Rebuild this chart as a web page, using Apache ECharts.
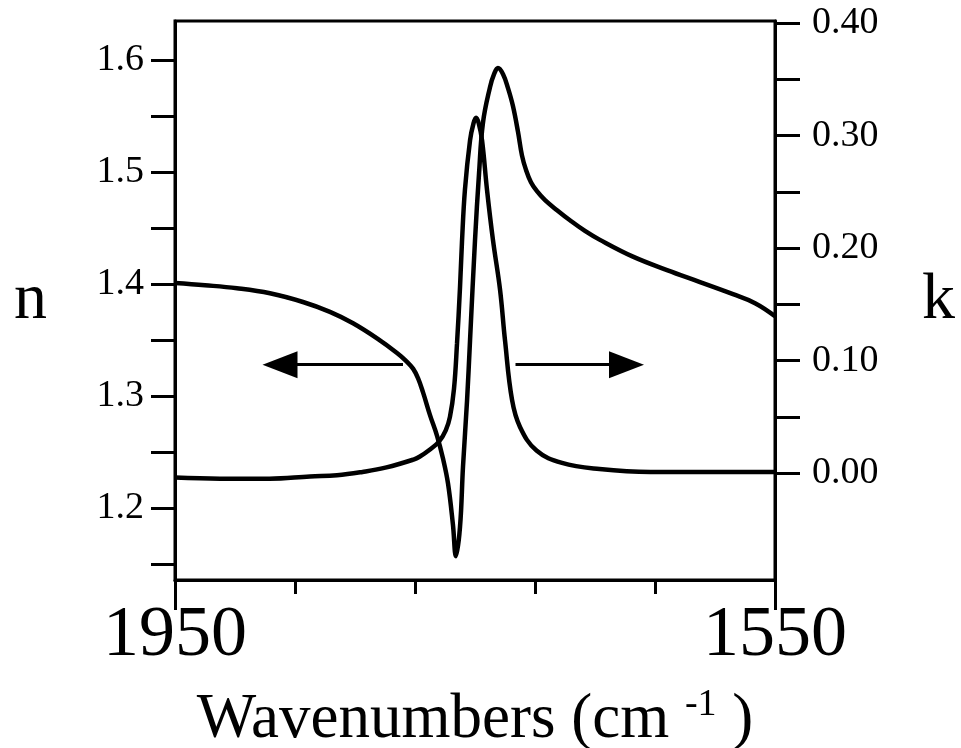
<!DOCTYPE html>
<html>
<head>
<meta charset="utf-8">
<script src="https://cdn.jsdelivr.net/npm/echarts@6/dist/echarts.min.js"></script>
<style>
  html, body { margin: 0; padding: 0; background: #fff; }
  #chart { width: 961px; height: 748px; }
</style>
</head>
<body>
<div id="chart"></div>
<script>
// refractive index n (left axis)
const nWave = [1950, 1930, 1908.7, 1886.7, 1864.7, 1846.7, 1831.3, 1815.3, 1802, 1796, 1791.3, 1788, 1784.7, 1780, 1775.3, 1771.3, 1768, 1764.7, 1762.7,
  1760, 1758, 1755.3, 1753.3, 1750, 1747.3, 1744.7, 1740, 1737.3, 1734.7, 1731.3, 1728, 1724.7, 1721.3, 1718.7, 1716, 1712.7, 1708.7,
  1703.3, 1695.3, 1686.7, 1676.7, 1666.7, 1644.7, 1622, 1600, 1578, 1563.3, 1550];
const nValue = [1.401, 1.399, 1.3963, 1.3918, 1.384, 1.3752, 1.365, 1.3515, 1.3385, 1.3315, 1.3245, 1.316, 1.3035, 1.283, 1.2645, 1.244, 1.222, 1.185, 1.157,
  1.183, 1.237, 1.296, 1.350, 1.439, 1.499, 1.544, 1.5759, 1.5875, 1.593, 1.5875, 1.575, 1.559, 1.5357, 1.515, 1.502, 1.491, 1.483,
  1.475, 1.466, 1.457, 1.4475, 1.4395, 1.4245, 1.4125, 1.4018, 1.391, 1.383, 1.3714];

// absorption index k (right axis)
const kWave = [1950, 1920, 1887, 1860, 1842, 1825, 1809, 1791, 1787, 1780, 1774, 1769.5, 1766.7, 1764, 1762, 1760, 1758.7,
  1756.7, 1753.3, 1751, 1749.3, 1747.5, 1745.3, 1742, 1738, 1733.3, 1730, 1725.3, 1720, 1709, 1692, 1667, 1633, 1590, 1550];
const kValue = [-0.004, -0.005, -0.005, -0.003, -0.002, 0.001, 0.005, 0.012, 0.0145, 0.021, 0.028, 0.038, 0.050, 0.075, 0.115, 0.165, 0.205,
  0.252, 0.296, 0.311, 0.316, 0.311, 0.296, 0.252, 0.207, 0.163, 0.118, 0.065, 0.041, 0.020, 0.009, 0.0036, 0.001, 0.001, 0.001];

const xTicks = [1550, 1630, 1710, 1790, 1870, 1950];
const xLabels = [1550, 1950];
const nTicks = [1.15, 1.2, 1.25, 1.3, 1.35, 1.4, 1.45, 1.5, 1.55, 1.6];
const nLabels = [1.2, 1.3, 1.4, 1.5, 1.6];
const kTicks = [0, 0.05, 0.1, 0.15, 0.2, 0.25, 0.3, 0.35, 0.4];
const kLabels = [0, 0.1, 0.2, 0.3, 0.4];

// arrows pointing to each axis: [from, to] in wavenumbers, at n level
const leftArrow = [1798, 1880];
const rightArrow = [1723, 1649];
const arrowLevel = 1.328;

const serif = 'Liberation Serif';
const nData = nWave.map((w, i) => [w, nValue[i]]);
const kData = kWave.map((w, i) => [w, kValue[i]]);

const myChart = echarts.init(document.getElementById('chart'));

const option = {
  animation: false,
  backgroundColor: '#fff',
  grid: {
    left: 175, right: 186, top: 21, bottom: 168,
    containLabel: false, outerBoundsMode: 'none',
    show: true, borderColor: '#000', borderWidth: 3,
  },
  xAxis: [
    {
      type: 'value', inverse: true, min: 1550, max: 1950, position: 'bottom',
      axisLine: { show: true, onZero: false, lineStyle: { color: '#000', width: 3 } },
      axisTick: { show: true, customValues: xTicks, length: 14, lineStyle: { color: '#000', width: 3 } },
      axisLabel: { show: false },
      splitLine: { show: false },
    },
    {
      type: 'value', inverse: true, min: 1550, max: 1950, position: 'bottom',
      axisLine: { show: false, onZero: false },
      axisTick: { show: true, customValues: xLabels, length: 30, lineStyle: { color: '#000', width: 3 } },
      axisLabel: {
        customValues: xLabels, margin: 20, color: '#000', fontFamily: serif, fontSize: 72,
        formatter: (v) => String(v),
      },
      splitLine: { show: false },
      name: '{a|Wavenumbers (cm }{s|-1}{a| )}',
      nameLocation: 'middle',
      nameGap: 106,
      nameTextStyle: {
        color: '#000',
        rich: {
          a: { fontFamily: serif, fontSize: 63, color: '#000', lineHeight: 68 },
          s: { fontFamily: serif, fontSize: 38, color: '#000', verticalAlign: 'top', lineHeight: 68 },
        },
      },
    },
  ],
  yAxis: [
    {
      type: 'value', min: 1.1357, max: 1.635, position: 'left',
      axisLine: { show: true, onZero: false, lineStyle: { color: '#000', width: 3 } },
      axisTick: { show: true, customValues: nTicks, length: 24, lineStyle: { color: '#000', width: 3 } },
      axisLabel: {
        customValues: nLabels, margin: 31, color: '#000', fontFamily: serif, fontSize: 38,
        formatter: (v) => v.toFixed(1),
      },
      splitLine: { show: false },
      name: 'n', nameLocation: 'middle', nameGap: 128, nameRotate: 0,
      nameTextStyle: { fontFamily: serif, fontSize: 66, color: '#000' },
    },
    {
      type: 'value', min: -0.0951, max: 0.402, position: 'right',
      axisLine: { show: true, onZero: false, lineStyle: { color: '#000', width: 3 } },
      axisTick: { show: true, customValues: kTicks, length: 25, lineStyle: { color: '#000', width: 3 } },
      axisLabel: {
        customValues: kLabels, margin: 37, color: '#000', fontFamily: serif, fontSize: 38,
        formatter: (v) => v.toFixed(2),
      },
      splitLine: { show: false },
      name: 'k', nameLocation: 'middle', nameGap: 147, nameRotate: 0,
      nameTextStyle: { fontFamily: serif, fontSize: 66, color: '#000' },
    },
  ],
  series: [
    {
      name: 'n', type: 'line', xAxisIndex: 0, yAxisIndex: 0,
      data: nData, showSymbol: false, smooth: 0.4,
      lineStyle: { color: '#000', width: 4.5 },
      markLine: {
        silent: true,
        symbol: ['none', 'triangle'],
        symbolSize: [27, 35],
        label: { show: false },
        lineStyle: { color: '#000', width: 3, type: 'solid' },
        data: [
          [{ coord: [leftArrow[0], arrowLevel] }, { coord: [leftArrow[1], arrowLevel] }],
          [{ coord: [rightArrow[0], arrowLevel] }, { coord: [rightArrow[1], arrowLevel] }],
        ],
      },
    },
    {
      name: 'k', type: 'line', xAxisIndex: 0, yAxisIndex: 1,
      data: kData, showSymbol: false, smooth: 0.4,
      lineStyle: { color: '#000', width: 4.5 },
    },
  ],
};
myChart.setOption(option);
</script>
</body>
</html>
